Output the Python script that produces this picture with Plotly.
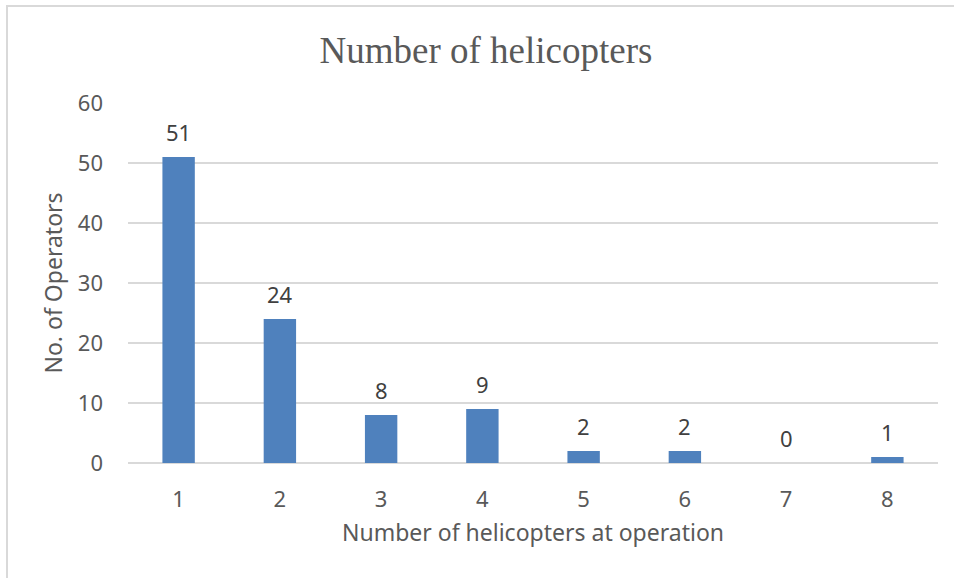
import plotly.graph_objects as go

categories = [1, 2, 3, 4, 5, 6, 7, 8]
operators = [51, 24, 8, 9, 2, 2, 0, 1]
y_ticks = [0, 10, 20, 30, 40, 50, 60]

BAR = "#4F81BD"
GRID = "#D9D9D9"
TXT = "#595959"
SANS = "Noto Sans, Open Sans, sans-serif"
FS = 22

fig = go.Figure()
fig.add_trace(go.Bar(x=categories, y=operators, marker=dict(color=BAR, line=dict(width=0)),
                     width=0.32, hoverinfo="x+y"))

for c, v in zip(categories, operators):
    fig.add_annotation(x=c, y=v, text=str(v), showarrow=False, yanchor="middle", yshift=25,
                       font=dict(family=SANS, size=FS, color="#404040"))

fig.add_shape(type="rect", xref="paper", yref="paper", x0=(7 - 128) / 810, x1=1.2,
              y0=-0.5, y1=(463 - 6) / 360, line=dict(color=GRID, width=2), layer="below")

fig.update_layout(
    width=954, height=578,
    margin=dict(l=128, r=16, t=103, b=115),
    paper_bgcolor="white", plot_bgcolor="white",
    showlegend=False,
    title=dict(text="Number of helicopters", x=486 / 954, xanchor="center", y=1 - 50 / 578, yanchor="middle",
               font=dict(family="Liberation Serif, Times New Roman, serif", size=37, color=TXT)),
    xaxis=dict(range=[0.5, 8.5], tickvals=categories, ticktext=[str(c) for c in categories],
               showgrid=False, showline=False, zeroline=False, ticks="",
               ticklabelstandoff=21,
               tickfont=dict(family=SANS, size=FS, color=TXT),
               title=dict(text="Number of helicopters at operation",
                          font=dict(family=SANS, size=FS + 1, color=TXT), standoff=12)),
    yaxis=dict(range=[0, 60], tickvals=y_ticks, showgrid=True, gridcolor=GRID, gridwidth=1.5,
               zeroline=True, zerolinecolor=GRID, zerolinewidth=1.5, showline=False, ticks="",
               ticklabelstandoff=24,
               tickfont=dict(family=SANS, size=FS, color=TXT),
               title=dict(text="No. of Operators", font=dict(family=SANS, size=FS + 1, color=TXT), standoff=8)),
)

fig.write_html("out.html", config={"displayModeBar": False},
               post_script="document.body.style.margin='0';document.body.style.overflow='hidden';")
